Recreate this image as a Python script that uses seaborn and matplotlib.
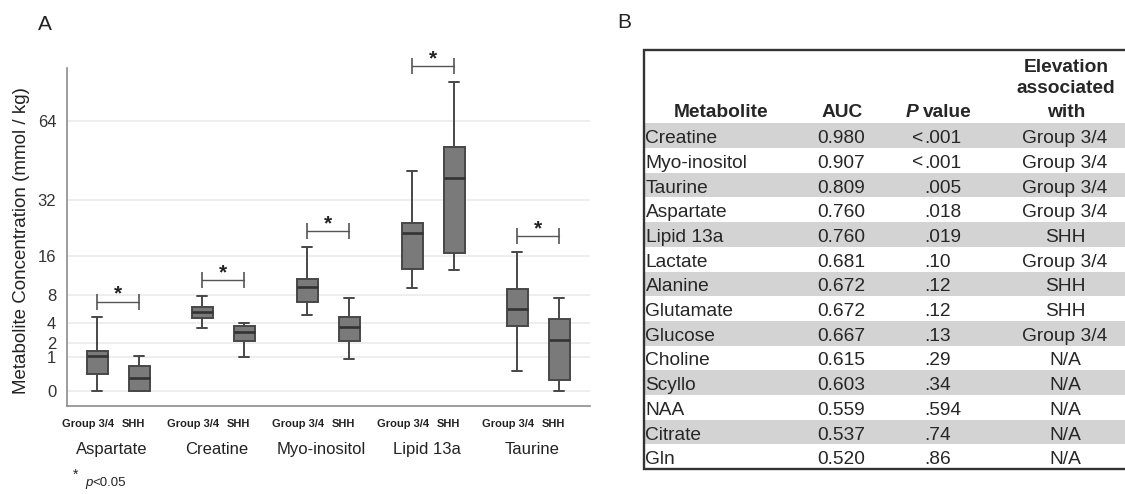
import numpy as np
import pandas as pd
import matplotlib
matplotlib.use("Agg")
import matplotlib.pyplot as plt
import seaborn as sns
from matplotlib.patches import Rectangle
from matplotlib.transforms import blended_transform_factory

# ---- panel A: box plot summaries ----
metabolites = ["Aspartate", "Creatine", "Myo-inositol", "Lipid 13a", "Taurine"]
groups = ["Group 3/4", "SHH"]

# whisker low, q1, median, q3, whisker high (mmol / kg)
g34_low = [0.0, 3.44, 5.02, 9.34, 0.34]
g34_q1 = [0.25, 4.70, 6.98, 13.0, 3.73]
g34_med = [1.07, 5.42, 9.52, 21.8, 5.84]
g34_q3 = [1.42, 6.22, 11.0, 24.8, 9.11]
g34_high = [4.75, 7.95, 18.2, 42.5, 16.9]

shh_low = [0.0, 0.99, 0.91, 12.8, 0.0]
shh_q1 = [0.0, 2.21, 2.21, 16.6, 0.11]
shh_med = [0.14, 3.08, 3.55, 39.8, 2.28]
shh_q3 = [0.55, 3.70, 4.75, 52.0, 4.58]
shh_high = [1.07, 4.01, 7.52, 83.6, 7.52]

y_ticks = [0, 1, 2, 4, 8, 16, 32, 64]

# ---- panel B: table ----
tab_metabolite = ["Creatine", "Myo-inositol", "Taurine", "Aspartate", "Lipid 13a",
                  "Lactate", "Alanine", "Glutamate", "Glucose", "Choline",
                  "Scyllo", "NAA", "Citrate", "Gln"]
tab_auc = ["0.980", "0.907", "0.809", "0.760", "0.760", "0.681", "0.672",
           "0.672", "0.667", "0.615", "0.603", "0.559", "0.537", "0.520"]
tab_p = ["<.001", "<.001", ".005", ".018", ".019", ".10", ".12", ".12",
         ".13", ".29", ".34", ".594", ".74", ".86"]
tab_elev = ["Group 3/4", "Group 3/4", "Group 3/4", "Group 3/4", "SHH",
            "Group 3/4", "SHH", "SHH", "Group 3/4", "N/A", "N/A", "N/A",
            "N/A", "N/A"]

rows = []
for i, m in enumerate(metabolites):
    for v in [g34_low[i], g34_q1[i], g34_med[i], g34_q3[i], g34_high[i]]:
        rows.append((m, "Group 3/4", v))
    for v in [shh_low[i], shh_q1[i], shh_med[i], shh_q3[i], shh_high[i]]:
        rows.append((m, "SHH", v))
df = pd.DataFrame(rows, columns=["metabolite", "group", "value"])

sns.set_style("white")
plt.rcParams["font.family"] = ["Liberation Sans", "DejaVu Sans"]

W, H = 1125, 494
fig = plt.figure(figsize=(W / 100, H / 100), dpi=100)

# axes box in pixels: left 67, right 590, top 68, bottom 406
ax = fig.add_axes([67.3 / W, 1 - 406 / H, (590 - 67.3) / W, (406 - 68) / H])

box_grey = "#7a7a7a"
line_grey = "#474747"
sns.boxplot(data=df, x="metabolite", y="value", hue="group", order=metabolites,
            hue_order=groups, palette=[box_grey, box_grey], saturation=1,
            whis=(0, 100), width=0.8, gap=0.5, linecolor=line_grey,
            linewidth=1.4, legend=False, ax=ax,
            medianprops=dict(color="#333333", linewidth=1.9))


def fwd(v):
    return np.sign(v) * np.sqrt(np.abs(v))


def inv(v):
    return np.sign(v) * v ** 2


ax.set_yscale("function", functions=(fwd, inv))
ax.set_ylim(-0.197, 91.3)
ax.set_xlim(-0.483, 4.495)
ax.set_yticks(y_ticks)
ax.set_yticklabels([str(t) for t in y_ticks], fontsize=12, color="#333333")
ax.tick_params(axis="y", length=3, width=1, color="#999999", pad=5)
ax.tick_params(axis="x", length=0)
ax.set_xticks([])
ax.set_xlabel("")
ax.set_ylabel("Metabolite Concentration (mmol / kg)", fontsize=13.5, color="#222222")
ax.yaxis.set_label_coords(-0.072, 0.49)
ax.yaxis.grid(True, color="#ebebeb", linewidth=1.2)
ax.set_axisbelow(True)
sns.despine(ax=ax)
for s in ["left", "bottom"]:
    ax.spines[s].set_color("#8c8c8c")
    ax.spines[s].set_linewidth(1.2)

# group / category labels under the axis
trans = blended_transform_factory(ax.transData, ax.transAxes)
for i, m in enumerate(metabolites):
    for off, g in zip([-0.29, 0.145], groups):
        ax.text(i + off, -0.0612, g, transform=trans, ha="center",
                va="baseline", fontsize=8, fontweight="bold", color="#222222",
                family=["Liberation Sans Narrow", "Liberation Sans", "DejaVu Sans"])
    ax.text(i - 0.06, -0.142, m, transform=trans, ha="center", va="baseline",
            fontsize=12, color="#222222")

# significance brackets above each pair
for i, m in enumerate(metabolites):
    top = max(g34_high[i], shh_high[i])
    yb = inv(fwd(top) + 0.465)
    xs = [i - 0.2, i + 0.2]
    ax.plot(xs, [yb, yb], color="#555555", lw=1, clip_on=False)
    ax.plot(xs, [yb, yb], color="#555555", lw=0, marker="|", markersize=11,
            markeredgewidth=1.2, clip_on=False)
    ax.annotate("*", xy=(i, yb), xytext=(0, -1.5), textcoords="offset points",
                ha="center", va="bottom", fontsize=15, fontweight="bold",
                color="#222222", annotation_clip=False)

fig.text(38 / W, 1 - 30 / H, "A", fontsize=15, color="#222222")
fig.text(73 / W, 1 - 479 / H, "*", fontsize=10, color="#222222")
fig.text(85 / W, 1 - 486 / H, "p", fontsize=9.5, style="italic", color="#222222")
fig.text(92.5 / W, 1 - 486 / H, "<0.05", fontsize=9.5, color="#222222")

# ---- panel B: table drawn in pixel coordinates ----
fig.text(617 / W, 1 - 28 / H, "B", fontsize=15, color="#222222")
axt = fig.add_axes([0, 0, 1, 1])
axt.set_xlim(0, W)
axt.set_ylim(H, 0)
axt.axis("off")

t_left, t_right, t_top = 643.5, 1125, 50
head_bot = 123.3
row_h = 24.7
fs = 13.8

for i in range(len(tab_metabolite)):
    y0 = head_bot + i * row_h
    if i % 2 == 0:
        axt.add_patch(Rectangle((t_left, y0), t_right - t_left, row_h,
                                facecolor="#d3d3d3", edgecolor="none"))
    base = y0 + row_h / 2 + 7.5
    axt.text(645.5, base, tab_metabolite[i], ha="left", va="baseline", fontsize=fs)
    axt.text(841, base, tab_auc[i], ha="center", va="baseline", fontsize=fs)
    p = tab_p[i]
    if p.startswith("<"):
        axt.text(912, base, "<", ha="left", va="baseline", fontsize=fs)
        p = p[1:]
    axt.text(924, base, p, ha="left", va="baseline", fontsize=fs)
    axt.text(1065, base, tab_elev[i], ha="center", va="baseline", fontsize=fs)

# header
axt.text(721.5, 117.3, "Metabolite", ha="center", va="baseline", fontsize=fs, fontweight="bold")
axt.text(842, 117.3, "AUC", ha="center", va="baseline", fontsize=fs, fontweight="bold")
axt.text(906, 117.3, "P", ha="left", va="baseline", fontsize=fs, fontweight="bold", style="italic")
axt.text(923, 117.3, "value", ha="left", va="baseline", fontsize=fs, fontweight="bold")
for txt, yb in zip(["Elevation", "associated", "with"], [71.7, 93.3, 117.3]):
    axt.text(1066, yb, txt, ha="center", va="baseline", fontsize=fs, fontweight="bold")

t_bot = head_bot + len(tab_metabolite) * row_h
axt.plot([t_right, t_left, t_left, t_right], [t_top, t_top, t_bot, t_bot],
         color="#333333", lw=1.7, solid_joinstyle="miter")

fig.savefig("out.png", dpi=100)
